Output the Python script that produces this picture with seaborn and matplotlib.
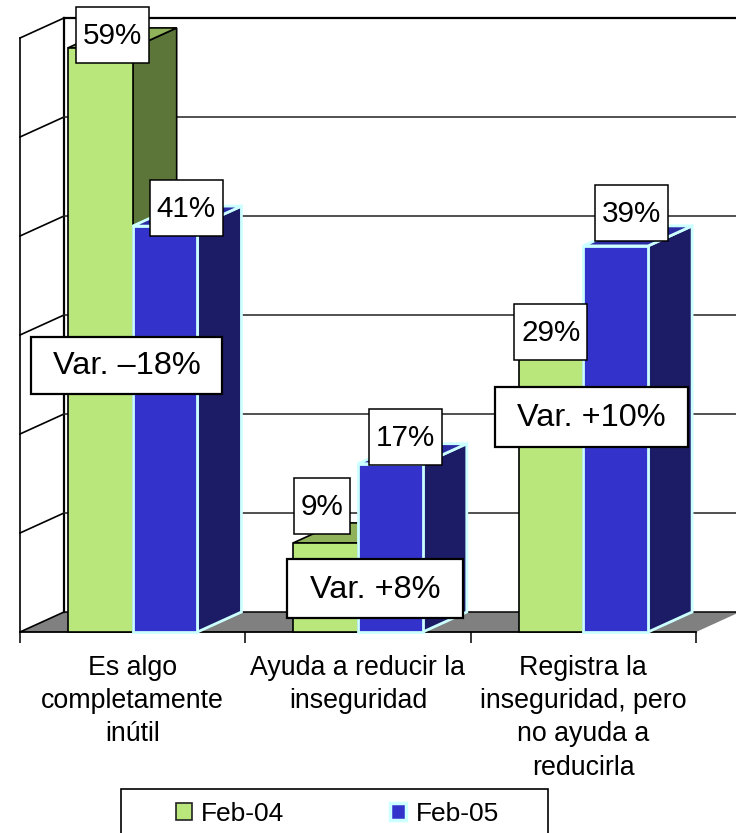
import pandas as pd
import seaborn as sns
import matplotlib.pyplot as plt
from matplotlib.patches import Polygon, Rectangle
from matplotlib.transforms import IdentityTransform

# data
categorias = ['Es algo\ncompletamente\ninútil', 'Ayuda a reducir la\ninseguridad',
              'Registra la\ninseguridad, pero\nno ayuda a\nreducirla']
feb_04 = [59, 9, 29]
feb_05 = [41, 17, 39]
variaciones = ['Var. \u201318%', 'Var. +8%', 'Var. +10%']
ticks_y = [0, 10, 20, 30, 40, 50, 60]

df = pd.DataFrame({
    'categoria': categorias * 2,
    'valor': feb_04 + feb_05,
    'serie': ['Feb-04'] * 3 + ['Feb-05'] * 3,
})

W, H = 736, 833
plt.rcParams['font.family'] = ['Liberation Sans', 'DejaVu Sans']
fig = plt.figure(figsize=(W / 100, H / 100), dpi=100)
ax = fig.add_axes([20 / W, 1 - 632 / H, 676 / W, 594 / H])

verde, azul = '#B9E77C', '#3333CC'
cian = '#CCFFFF'
sns.barplot(data=df, x='categoria', y='valor', hue='serie', palette=[verde, azul],
            width=0.575, gap=0, saturation=1, ax=ax, zorder=5)
ax.set_xlim(-0.5, 2.5)
ax.set_ylim(0, 60)
ax.set_xlabel('')
ax.set_ylabel('')

# depth of the fake 3D, in data units
dx = 44 / (676 / 3)
dy = 20 / (594 / 60)

# floor
ax.add_patch(Polygon([(-0.5, 0), (-0.5 + dx, dy), (2.5 + dx, dy), (2.5, 0)], closed=True,
                     fc='#808080', ec='none', clip_on=False, zorder=1))

# walls and grid
ax.plot([-0.5, -0.5], [0, 60], color='black', lw=1.2, clip_on=False, zorder=2)
ax.plot([-0.5 + dx, -0.5 + dx], [dy, 60 + dy], color='black', lw=1.6, clip_on=False, zorder=2)
for t in ticks_y:
    ax.plot([-0.5, -0.5 + dx], [t, t + dy], color='black', lw=1.2, clip_on=False, zorder=2)
    lw = 1.6 if t == 60 else 1.1
    col = 'black' if t in (0, 60) else '#222222'
    ax.plot([-0.5 + dx, 2.5 + dx], [t + dy, t + dy], color=col, lw=lw, clip_on=False, zorder=2)

# sides and tops of the bars
estilos = [('#8FB25A', '#5C7639', 'black', 1.2), ('#2A2AA3', '#1C1C66', cian, 2.0)]
for n, cont in enumerate(ax.containers):
    tapa, lado, borde, ancho = estilos[n]
    for bar in cont:
        x0, x1, h = bar.get_x(), bar.get_x() + bar.get_width(), bar.get_height()
        z = 5 + n * 2
        ax.add_patch(Polygon([(x1, 0), (x1 + dx, dy), (x1 + dx, h + dy), (x1, h)], closed=True,
                             fc=lado, ec=borde, lw=ancho, clip_on=False, zorder=z))
        ax.add_patch(Polygon([(x0, h), (x0 + dx, h + dy), (x1 + dx, h + dy), (x1, h)], closed=True,
                             fc=tapa, ec=borde, lw=ancho, clip_on=False, zorder=z))
        bar.set_edgecolor(borde)
        bar.set_linewidth(ancho)
        bar.set_clip_on(False)
        bar.set_zorder(z + 1)

# axis
sns.despine(ax=ax, left=True, top=True, right=True)
ax.spines['bottom'].set_linewidth(1.3)
ax.spines['bottom'].set_zorder(4)
ax.set_yticks([])
ax.set_xticks([-0.5, 0.5, 1.5, 2.5], minor=True)
ax.tick_params(axis='x', which='minor', length=8, width=1.1)
ax.tick_params(axis='x', which='major', length=0, pad=16.5, labelsize=19.3)
for lab in ax.get_xticklabels():
    lab.set_linespacing(1.36)


def caja(cx, cy, w, h, texto, size, lw):
    # box with fixed size in pixels, cy measured from the top of the image
    y = H - cy
    t = IdentityTransform()
    ax.add_patch(Rectangle((cx - w / 2, y - h / 2), w, h, transform=t, fc='white', ec='black',
                           lw=lw, clip_on=False, zorder=20))
    ax.text(cx, y - 1, texto, transform=t, ha='center', va='center', fontsize=size,
            color='black', clip_on=False, zorder=21)


# value labels, offset in pixels from the top centre of each bar
desp_etiquetas = [[(12, 13), (-4, 37), (0, 13)], [(21, 18), (15, 27), (16, 33)]]
fig.canvas.draw()
for n, cont in enumerate(ax.containers):
    for i, bar in enumerate(cont):
        px, py = ax.transData.transform((bar.get_x() + bar.get_width() / 2, bar.get_height()))
        ox, oy = desp_etiquetas[n][i]
        ancho_caja = 56 if bar.get_height() < 10 else 73
        caja(px + ox, (H - py) - oy, ancho_caja, 56, f'{bar.get_height():.0f}%', 21.3, 1.1)

# variation boxes
pos_var = [(126.5, 365.5, 191, 57), (375, 588.5, 176, 59), (591.5, 417, 193, 60)]
for texto, (cx, cy, w, h) in zip(variaciones, pos_var):
    caja(cx, cy, w, h, texto, 23.4, 1.6)

# legend: frame runs past the bottom of the image
ax.add_patch(Rectangle((121, H - 845), 427, 56, transform=IdentityTransform(), fc='white',
                       ec='black', lw=1.2, clip_on=False, zorder=29))
handles, labels = ax.get_legend_handles_labels()
leg = ax.legend(handles, labels, loc='upper left', ncol=2, frameon=False,
                bbox_to_anchor=(161, H - 787), bbox_transform=IdentityTransform(),
                fontsize=19, borderaxespad=0, borderpad=0.55, handlelength=0.62,
                handleheight=0.62, handletextpad=0.35, columnspacing=4.0)
leg.set_zorder(30)
leg.set_clip_on(False)
leg.legend_handles[0].set_edgecolor('#222222')
leg.legend_handles[0].set_linewidth(1.2)
leg.legend_handles[1].set_edgecolor(cian)
leg.legend_handles[1].set_linewidth(2.5)

fig.savefig('out.png', dpi=100)
